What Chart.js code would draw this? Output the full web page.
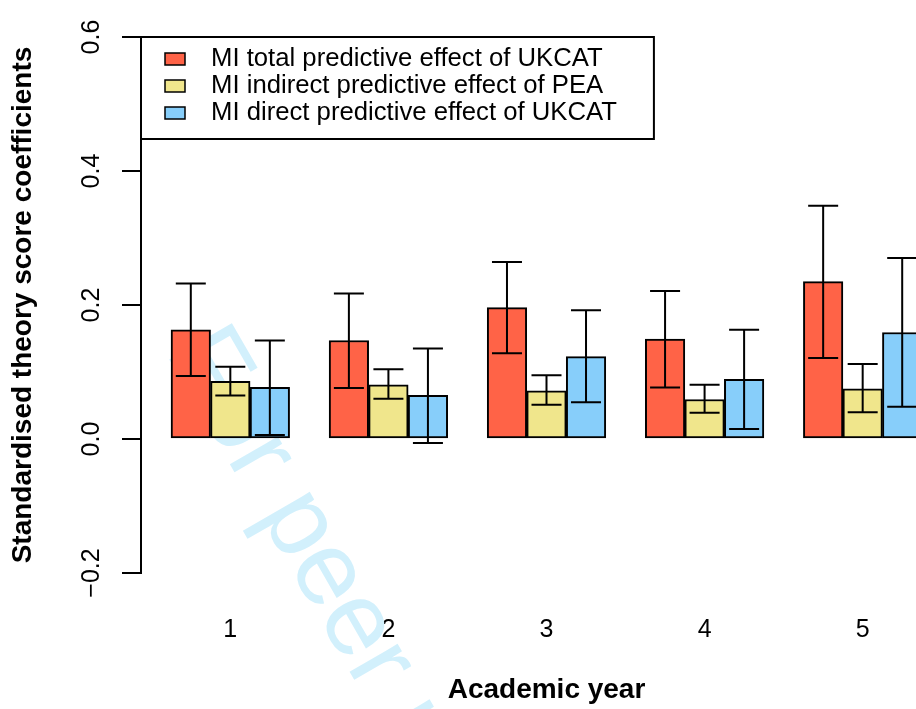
<!DOCTYPE html>
<html>
<head>
<meta charset="utf-8">
<script src="https://cdn.jsdelivr.net/npm/chart.js@4.4.1/dist/chart.umd.min.js"></script>
<style>
  html, body { margin: 0; padding: 0; background: #fff; overflow: hidden; }
  #wrap { width: 916px; height: 709px; overflow: hidden; }
</style>
</head>
<body>
<div id="wrap"><canvas id="effects" width="952" height="709"></canvas></div>
<script>
// values
const years = ['1', '2', '3', '4', '5'];
const seriesNames = [
  'MI total predictive effect of UKCAT',
  'MI indirect predictive effect of PEA',
  'MI direct predictive effect of UKCAT'
];
const seriesColors = ['#FF6347', '#F0E68C', '#87CEFA'];

const totalEffect = [0.163, 0.147, 0.196, 0.149, 0.235];
const totalLower  = [0.094, 0.076, 0.128, 0.077, 0.121];
const totalUpper  = [0.232, 0.217, 0.264, 0.221, 0.348];

const indirectEffect = [0.086, 0.081, 0.072, 0.059, 0.075];
const indirectLower  = [0.065, 0.060, 0.051, 0.039, 0.040];
const indirectUpper  = [0.108, 0.104, 0.095, 0.081, 0.112];

const directEffect = [0.077, 0.065, 0.123, 0.089, 0.159];
const directLower  = [0.006, -0.006, 0.055, 0.015, 0.048];
const directUpper  = [0.147, 0.135, 0.192, 0.163, 0.270];

const yTicks = [-0.2, 0.0, 0.2, 0.4, 0.6];

// barplot-style layout: 3 bars per group + 1 gap, first group starts at 1
const groupSize = seriesNames.length + 1;
const barX = (g, s) => 1 + g * groupSize + s + 0.5;
const groupCentre = (g) => 1 + g * groupSize + seriesNames.length / 2;

const values = [totalEffect, indirectEffect, directEffect];
const lowers = [totalLower, indirectLower, directLower];
const uppers = [totalUpper, indirectUpper, directUpper];

Chart.defaults.font.family = '"Liberation Sans", Arial, Helvetica, sans-serif';
Chart.defaults.color = '#000';

const datasets = seriesNames.map((name, s) => ({
  label: name,
  data: years.map((_, g) => ({ x: barX(g, s), y: values[s][g] })),
  lower: lowers[s],
  upper: uppers[s],
  backgroundColor: seriesColors[s],
  borderColor: '#000',
  borderWidth: 2,
  borderSkipped: false,
  grouped: false,
  barPercentage: 1,
  categoryPercentage: 1
}));

const watermark = {
  id: 'watermark',
  beforeDatasetsDraw(chart) {
    const ctx = chart.ctx;
    ctx.save();
    ctx.translate(165, 352);
    ctx.rotate(Math.PI / 3);
    ctx.font = '105px "Liberation Sans", Arial, sans-serif';
    ctx.fillStyle = '#d2f0fc';
    ctx.fillText('For peer review', 0, 0);
    ctx.restore();
  }
};

const errorBars = {
  id: 'errorBars',
  afterDatasetsDraw(chart) {
    const ctx = chart.ctx;
    const y = chart.scales.y;
    ctx.save();
    ctx.strokeStyle = '#000';
    ctx.lineWidth = 2;
    chart.data.datasets.forEach((ds, d) => {
      chart.getDatasetMeta(d).data.forEach((bar, i) => {
        const lo = y.getPixelForValue(ds.lower[i]);
        const hi = y.getPixelForValue(ds.upper[i]);
        ctx.beginPath();
        ctx.moveTo(bar.x, lo); ctx.lineTo(bar.x, hi);
        ctx.moveTo(bar.x - 15, lo); ctx.lineTo(bar.x + 15, lo);
        ctx.moveTo(bar.x - 15, hi); ctx.lineTo(bar.x + 15, hi);
        ctx.stroke();
      });
    });
    ctx.restore();
  }
};

// R-style boxed legend in the top left corner of the plot
const boxLegend = {
  id: 'boxLegend',
  afterDraw(chart) {
    const { ctx, chartArea } = chart;
    const left = chartArea.left, top = chartArea.top;
    ctx.save();
    ctx.font = '25.7px "Liberation Sans", Arial, sans-serif';
    const textX = left + 70;
    const widest = Math.max(...seriesNames.map(n => ctx.measureText(n).width));
    const w = textX - left + widest + 37, h = 102;
    ctx.fillStyle = '#fff';
    ctx.fillRect(left, top, w, h);
    ctx.lineWidth = 2;
    ctx.strokeStyle = '#000';
    ctx.strokeRect(left, top, w, h);
    ctx.textBaseline = 'middle';
    seriesNames.forEach((name, k) => {
      const cy = top + 22 + k * 27;
      ctx.fillStyle = seriesColors[k];
      ctx.fillRect(left + 24, cy - 6, 20, 12);
      ctx.lineWidth = 1.5;
      ctx.strokeRect(left + 24, cy - 6, 20, 12);
      ctx.fillStyle = '#000';
      ctx.fillText(name, textX, cy);
    });
    ctx.restore();
  }
};

new Chart(document.getElementById('effects'), {
  type: 'bar',
  data: { datasets },
  options: {
    responsive: false,
    animation: false,
    layout: { padding: { top: 37, right: 0, bottom: 0, left: 0 } },
    plugins: {
      legend: { display: false },
      tooltip: { enabled: false }
    },
    scales: {
      x: {
        type: 'linear',
        offset: false,
        min: 0.24,
        max: 20.76,
        grid: { display: false },
        border: { display: false },
        afterBuildTicks: (scale) => {
          scale.ticks = years.map((_, g) => ({ value: groupCentre(g) }));
        },
        afterFit: (scale) => { scale.height = 136; },
        ticks: {
          font: { size: 25 },
          padding: 34,
          callback: (v, i) => years[i]
        },
        title: {
          display: true,
          text: 'Academic year',
          font: { size: 28, weight: 'bold' },
          padding: { top: 0, bottom: 2 }
        }
      },
      y: {
        min: -0.2,
        max: 0.6,
        afterBuildTicks: (scale) => {
          scale.ticks = yTicks.map(v => ({ value: v }));
        },
        afterFit: (scale) => { scale.width = 141; },
        grid: {
          display: true,
          drawOnChartArea: false,
          drawTicks: true,
          tickLength: 19,
          color: '#000',
          lineWidth: 2
        },
        border: { display: true, color: '#000', width: 2 },
        ticks: {
          font: { size: 25 },
          minRotation: 90,
          maxRotation: 90,
          crossAlign: 'center',
          padding: 5,
          callback: (v) => (v < 0 ? '\u2212' : '') + Math.abs(v).toFixed(1)
        },
        title: {
          display: true,
          text: 'Standardised theory score coefficients',
          font: { size: 28, weight: 'bold' },
          padding: { top: 6 }
        }
      }
    }
  },
  plugins: [watermark, errorBars, boxLegend]
});
</script>
</body>
</html>
